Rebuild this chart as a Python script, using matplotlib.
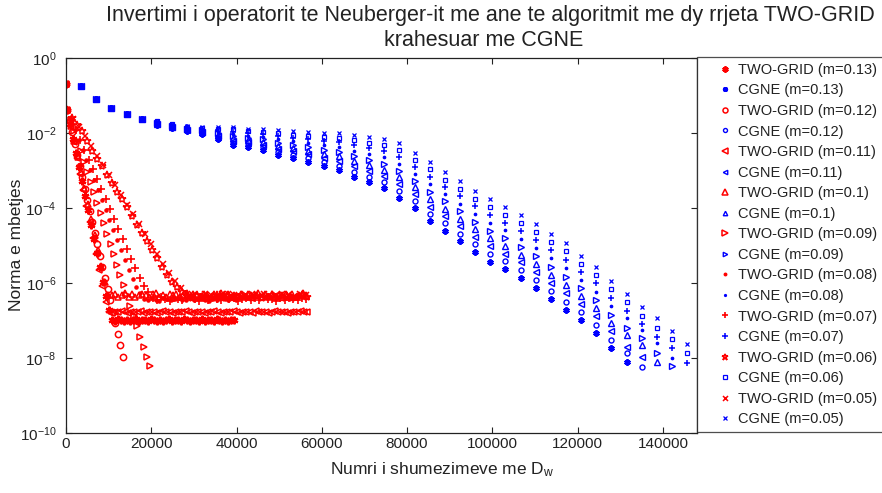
import numpy as np
import matplotlib
matplotlib.use("Agg")
import matplotlib.pyplot as plt
from matplotlib.ticker import FixedLocator, NullLocator, LogFormatterSciNotation

plt.rcParams['font.family'] = ['Liberation Sans', 'DejaVu Sans']
plt.rcParams['mathtext.fontset'] = 'custom'
plt.rcParams['mathtext.rm'] = 'Liberation Sans'
plt.rcParams['mathtext.it'] = 'Liberation Sans:italic'

# ---------------- data ----------------
m_labels = ['0.13', '0.12', '0.11', '0.1', '0.09', '0.08', '0.07', '0.06', '0.05']

# CGNE: number of D_w multiplications at each iteration (one column per iteration)
cgne_x = [3554, 7108, 10662, 14216, 17770, 21324, 24878, 28432, 31986, 35540,
          39094, 42648, 46202, 49756, 53310, 56864, 60418, 63972, 67526, 71080,
          74634, 78188, 81742, 85296, 88850, 92404, 95958, 99512, 103066, 106620,
          110174, 113728, 117282, 120836, 124390, 127944, 131498, 135052, 138606,
          142160, 145714]

# CGNE residual norms (log10)
cgne_13 = [-0.75, -1.09, -1.33, -1.49, -1.63, -1.79, -1.87, -1.95, -2.03, -2.16,
           -2.32, -2.37, -2.45, -2.59, -2.67, -2.77, -2.88, -2.99, -3.17, -3.31,
           -3.47, -3.73, -4.00, -4.35, -4.61, -4.88, -5.17, -5.44, -5.63, -5.87,
           -6.13, -6.43, -6.72, -6.99, -7.33, -7.73, -8.10]
cgne_12 = [-0.75, -1.09, -1.33, -1.49, -1.63, -1.77, -1.85, -1.93, -2.00, -2.12,
           -2.26, -2.31, -2.38, -2.51, -2.58, -2.67, -2.77, -2.87, -3.03, -3.16,
           -3.31, -3.55, -3.82, -4.15, -4.41, -4.68, -4.97, -5.23, -5.42, -5.66,
           -5.92, -6.21, -6.50, -6.78, -7.11, -7.51, -7.87, -8.23]
cgne_11 = [-0.75, -1.09, -1.33, -1.49, -1.63, -1.76, -1.84, -1.91, -1.98, -2.08,
           -2.20, -2.25, -2.31, -2.42, -2.49, -2.57, -2.66, -2.74, -2.89, -3.01,
           -3.14, -3.37, -3.63, -3.96, -4.22, -4.48, -4.77, -5.02, -5.22, -5.45,
           -5.71, -6.00, -6.27, -6.56, -6.89, -7.29, -7.70, -7.97]
cgne_10 = [-0.75, -1.09, -1.33, -1.49, -1.63, -1.75, -1.83, -1.90, -1.96, -2.04,
           -2.14, -2.19, -2.24, -2.34, -2.40, -2.47, -2.55, -2.62, -2.75, -2.86,
           -2.98, -3.18, -3.45, -3.76, -4.02, -4.28, -4.56, -4.81, -5.01, -5.24,
           -5.49, -5.78, -6.05, -6.35, -6.67, -7.06, -7.39, -7.65, -8.10]
cgne_09 = [-0.75, -1.09, -1.33, -1.49, -1.63, -1.73, -1.81, -1.88, -1.93, -2.00,
           -2.08, -2.13, -2.17, -2.26, -2.31, -2.37, -2.44, -2.50, -2.61, -2.71,
           -2.82, -3.00, -3.27, -3.56, -3.82, -4.08, -4.36, -4.60, -4.80, -5.03,
           -5.28, -5.56, -5.83, -6.14, -6.45, -6.84, -7.21, -7.47, -7.86, -8.21]
cgne_08 = [-0.75, -1.09, -1.33, -1.49, -1.63, -1.72, -1.80, -1.86, -1.91, -1.96,
           -2.02, -2.07, -2.10, -2.17, -2.22, -2.27, -2.33, -2.37, -2.47, -2.56,
           -2.65, -2.82, -3.08, -3.36, -3.63, -3.88, -4.16, -4.39, -4.59, -4.82,
           -5.07, -5.34, -5.60, -5.92, -6.23, -6.62, -6.94, -7.25, -7.59, -8.00]
cgne_07 = [-0.75, -1.09, -1.33, -1.49, -1.63, -1.71, -1.79, -1.85, -1.89, -1.92,
           -1.96, -2.01, -2.03, -2.09, -2.13, -2.17, -2.22, -2.25, -2.33, -2.41,
           -2.49, -2.63, -2.90, -3.17, -3.43, -3.68, -3.95, -4.18, -4.39, -4.61,
           -4.85, -5.13, -5.38, -5.71, -6.01, -6.40, -6.74, -7.09, -7.43, -7.73, -8.14]
cgne_06 = [-0.75, -1.09, -1.33, -1.49, -1.63, -1.69, -1.77, -1.83, -1.86, -1.88,
           -1.90, -1.95, -1.96, -2.00, -2.04, -2.07, -2.11, -2.12, -2.19, -2.26,
           -2.32, -2.45, -2.71, -2.97, -3.24, -3.48, -3.75, -3.97, -4.18, -4.40,
           -4.64, -4.91, -5.15, -5.49, -5.79, -6.17, -6.51, -6.88, -7.21, -7.49, -7.87]
cgne_05 = [-0.75, -1.09, -1.33, -1.49, -1.63, -1.68, -1.76, -1.81, -1.84, -1.84,
           -1.84, -1.89, -1.89, -1.92, -1.95, -1.97, -2.00, -2.00, -2.05, -2.11,
           -2.16, -2.27, -2.53, -2.77, -3.04, -3.28, -3.55, -3.76, -3.97, -4.19,
           -4.43, -4.69, -4.93, -5.28, -5.57, -5.95, -6.30, -6.63, -6.94, -7.28, -7.63]

# TWO-GRID: D_w multiplications per outer iteration, and residual norms (log10)
tg_first_iter_x = 300
tg_cost = {'0.13': 700, '0.12': 590, '0.11': 750, '0.1': 800, '0.09': 780,
           '0.08': 900, '0.07': 1000, '0.06': 1170, '0.05': 1400}

tg_13 = [-0.69, -1.39, -1.77, -2.15, -2.53, -2.91, -3.29, -3.67, -4.06, -4.44,
         -4.82, -5.20, -5.58, -5.96, -6.34, -6.73,
         -6.98, -7.00, -6.97, -6.99, -7.01, -6.98, -7.00, -6.99, -6.97, -7.01,
         -6.99, -6.98, -7.00, -6.97, -6.99, -7.01, -6.98, -7.00, -6.99, -6.97,
         -7.00, -6.98, -6.99, -7.01, -6.97, -6.99, -7.00, -6.98, -6.99, -7.01,
         -6.97, -7.00, -6.98, -6.99, -7.00, -6.97, -6.99, -7.01, -6.98, -7.00,
         -6.99, -6.98]
tg_12 = [-0.69, -1.39, -1.69, -1.98, -2.28, -2.58, -2.88, -3.18, -3.48, -3.78,
         -4.07, -4.37, -4.67, -4.97, -5.27, -5.57, -5.87, -6.17, -6.46, -6.76,
         -7.06, -7.36, -7.66, -7.96]
tg_11 = [-0.69, -1.39, -1.81, -2.24, -2.67, -3.09, -3.52, -3.95, -4.37, -4.80,
         -5.23, -5.65, -6.08, -6.51,
         -6.77, -6.79, -6.76, -6.78, -6.75, -6.77, -6.80, -6.76, -6.78, -6.77,
         -6.75, -6.79, -6.77, -6.76, -6.78, -6.80, -6.77, -6.75, -6.78, -6.76,
         -6.79, -6.77, -6.76, -6.78, -6.75, -6.77, -6.79, -6.76, -6.78, -6.77,
         -6.80, -6.76, -6.77, -6.75, -6.78, -6.79, -6.76, -6.77, -6.78, -6.75,
         -6.77, -6.79, -6.76, -6.78, -6.77, -6.80, -6.75, -6.77, -6.78, -6.76,
         -6.79, -6.77, -6.75, -6.78, -6.76, -6.77, -6.79, -6.76, -6.78, -6.77,
         -6.75, -6.78, -6.77]
tg_10 = [-0.69, -1.39, -1.80, -2.22, -2.63, -3.05, -3.47, -3.88, -4.30, -4.71,
         -5.13, -5.55, -5.96, -6.32,
         -6.33, -6.28, -6.37, -6.32, -6.27, -6.36, -6.30, -6.38, -6.33, -6.28,
         -6.32, -6.37, -6.30, -6.27, -6.36, -6.32, -6.38, -6.28, -6.33, -6.30,
         -6.37, -6.32, -6.27, -6.36, -6.30, -6.33, -6.38, -6.28, -6.32, -6.37,
         -6.30, -6.36, -6.27, -6.33, -6.28, -6.38, -6.32, -6.36, -6.30, -6.37,
         -6.28, -6.33, -6.32, -6.27, -6.37, -6.30, -6.36, -6.28, -6.38, -6.32,
         -6.33, -6.30, -6.37, -6.28, -6.36, -6.32, -6.27, -6.33]
tg_09 = [-0.69, -1.39, -1.66, -1.94, -2.21, -2.49, -2.76, -3.03, -3.31, -3.58,
         -3.86, -4.13, -4.41, -4.68, -4.96, -5.23, -5.51, -5.78, -6.06, -6.33,
         -6.61, -6.88, -7.15, -7.43, -7.70, -7.98, -8.21]
tg_08 = [-0.69, -1.39, -1.65, -1.92, -2.19, -2.45, -2.72, -2.99, -3.25, -3.52,
         -3.79, -4.05, -4.32, -4.59, -4.85, -5.12, -5.39, -5.65, -5.89, -6.11, -6.27,
         -6.42, -6.45, -6.40, -6.44, -6.47, -6.41, -6.43, -6.46, -6.42, -6.39,
         -6.44, -6.46, -6.41, -6.45, -6.43, -6.40, -6.44, -6.47, -6.42, -6.45,
         -6.41, -6.43, -6.46, -6.40, -6.44]
tg_07 = [-0.69, -1.39, -1.65, -1.91, -2.18, -2.44, -2.71, -2.97, -3.23, -3.50,
         -3.76, -4.03, -4.29, -4.55, -4.82, -5.08, -5.35, -5.61, -5.87, -6.08, -6.24,
         -6.40, -6.45, -6.38, -6.43, -6.47, -6.39, -6.42, -6.46, -6.40, -6.37,
         -6.43, -6.47, -6.40, -6.44, -6.39, -6.42, -6.46, -6.38, -6.43, -6.40,
         -6.47, -6.42, -6.39, -6.44, -6.40, -6.46, -6.38, -6.43, -6.42, -6.47,
         -6.39, -6.44, -6.40, -6.43, -6.46, -6.39, -6.42]
tg_06 = [-0.69, -1.39, -1.60, -1.79, -1.95, -2.21, -2.48, -2.69, -2.88, -3.12,
         -3.33, -3.56, -3.76, -3.97, -4.20, -4.45, -4.67, -4.89, -5.11, -5.33,
         -5.57, -5.79, -5.96, -6.11, -6.24,
         -6.35, -6.39, -6.33, -6.37, -6.41, -6.36, -6.32, -6.39, -6.35, -6.40,
         -6.36, -6.33, -6.37, -6.41, -6.35, -6.39, -6.36, -6.32, -6.37, -6.40,
         -6.35, -6.39, -6.36, -6.33, -6.37]
tg_05 = [-0.69, -1.39, -1.62, -1.84, -2.07, -2.34, -2.60, -2.86, -3.12, -3.38,
         -3.65, -3.91, -4.17, -4.43, -4.69, -4.95, -5.22, -5.48, -5.74, -5.95,
         -6.13, -6.29,
         -6.31, -6.35, -6.29, -6.33, -6.36, -6.30, -6.28, -6.33, -6.37, -6.32,
         -6.29, -6.35, -6.30, -6.36, -6.33, -6.29, -6.32, -6.37, -6.30, -6.33]

tg_series = {'0.13': tg_13, '0.12': tg_12, '0.11': tg_11, '0.1': tg_10, '0.09': tg_09,
             '0.08': tg_08, '0.07': tg_07, '0.06': tg_06, '0.05': tg_05}
cgne_series = {'0.13': cgne_13, '0.12': cgne_12, '0.11': cgne_11, '0.1': cgne_10,
               '0.09': cgne_09, '0.08': cgne_08, '0.07': cgne_07, '0.06': cgne_06,
               '0.05': cgne_05}

x_ticks = [0, 20000, 40000, 60000, 80000, 100000, 120000, 140000]
y_ticks = [1e-10, 1e-8, 1e-6, 1e-4, 1e-2, 1e0]

# ---------------- styles ----------------
ast = (6, 2, 0)
tg_style = {'0.13': dict(marker=ast, ms=5.5, mew=1.6),
            '0.12': dict(marker='o', ms=4.5, mew=1.1),
            '0.11': dict(marker='<', ms=5.0, mew=1.1),
            '0.1': dict(marker='^', ms=5.0, mew=1.1),
            '0.09': dict(marker='>', ms=5.0, mew=1.1),
            '0.08': dict(marker='.', ms=4.5, mew=1.0),
            '0.07': dict(marker='+', ms=6.0, mew=1.2),
            '0.06': dict(marker='*', ms=6.0, mew=1.1),
            '0.05': dict(marker='x', ms=4.5, mew=1.1)}
cg_style = {'0.13': dict(marker=ast, ms=4.5, mew=1.6),
            '0.12': dict(marker='o', ms=3.6, mew=1.0),
            '0.11': dict(marker='<', ms=4.0, mew=1.0),
            '0.1': dict(marker='^', ms=4.0, mew=1.0),
            '0.09': dict(marker='>', ms=4.0, mew=1.0),
            '0.08': dict(marker='.', ms=3.5, mew=0.9),
            '0.07': dict(marker='+', ms=4.8, mew=1.1),
            '0.06': dict(marker='s', ms=3.2, mew=0.9),
            '0.05': dict(marker='x', ms=3.2, mew=0.9)}

RED = (1, 0, 0)
BLUE = (0, 0, 1)
INK = '#222222'

fig = plt.figure(figsize=(8.82, 4.93), dpi=100)
W, H = 882, 493
ax = fig.add_axes([66 / W, (H - 433) / H, 631 / W, 375 / H])

handles, labels = [], []
for m in m_labels:
    y = np.array(tg_series[m])
    c = tg_cost[m]
    x = np.concatenate([[0], tg_first_iter_x + c * np.arange(len(y) - 1)])
    st = tg_style[m]
    filled = st['marker'] == '.'
    h1, = ax.plot(x, 10.0 ** y, linestyle='none', color=RED,
                  mfc=RED if filled else 'none', mec=RED, **st)
    yb = np.array(cgne_series[m])
    xb = np.array(cgne_x[:len(yb)])
    stb = cg_style[m]
    filled = stb['marker'] == '.'
    h2, = ax.plot(xb, 10.0 ** yb, linestyle='none', color=BLUE,
                  mfc=BLUE if filled else 'none', mec=BLUE, **stb)
    handles += [h1, h2]
    labels += ['TWO-GRID (m=%s)' % m, 'CGNE (m=%s)' % m]

ax.set_yscale('log')
ax.set_xlim(0, 148000)
ax.set_ylim(1e-10, 1)
ax.xaxis.set_major_locator(FixedLocator(x_ticks))
ax.set_xticklabels([str(v) for v in x_ticks])
ax.yaxis.set_major_locator(FixedLocator(y_ticks))
ax.yaxis.set_major_formatter(LogFormatterSciNotation())
ax.yaxis.set_minor_locator(NullLocator())
ax.xaxis.set_minor_locator(NullLocator())
ax.tick_params(axis='both', which='major', direction='in', top=True, right=True,
               length=4.5, width=0.8, labelsize=11, colors=INK)
ax.tick_params(axis='x', pad=3)
ax.tick_params(axis='y', pad=7)
for sp in ax.spines.values():
    sp.set_linewidth(0.9)
    sp.set_color(INK)

fig.text(490 / W, 1 - 15 / H,
         'Invertimi i operatorit te Neuberger-it me ane te algoritmit me dy rrjeta TWO-GRID',
         ha='center', va='center', fontsize=15.5, color=INK)
fig.text(484 / W, 1 - 40 / H, 'krahesuar me CGNE', ha='center', va='center',
         fontsize=15.5, color=INK)
fig.text(442 / W, 1 - 470 / H, r'Numri i shumezimeve me D$_\mathrm{w}$',
         ha='center', va='center', fontsize=12.5, color=INK)
fig.text(17 / W, 1 - 245 / H, 'Norma e mbetjes', ha='center', va='center',
         rotation=90, fontsize=12.5, color=INK)

leg = fig.legend(handles, labels, loc='upper left',
                 bbox_to_anchor=(697 / W, 1 - 57 / H), borderaxespad=0,
                 frameon=True, fancybox=False, fontsize=10.5, numpoints=1,
                 handlelength=3.0, handletextpad=-0.6, labelspacing=0.45,
                 borderpad=0.4, markerscale=0.8)
leg.get_frame().set_edgecolor(INK)
leg.get_frame().set_linewidth(0.9)
for t in leg.get_texts():
    t.set_color(INK)

fig.savefig('out.png', dpi=100)
